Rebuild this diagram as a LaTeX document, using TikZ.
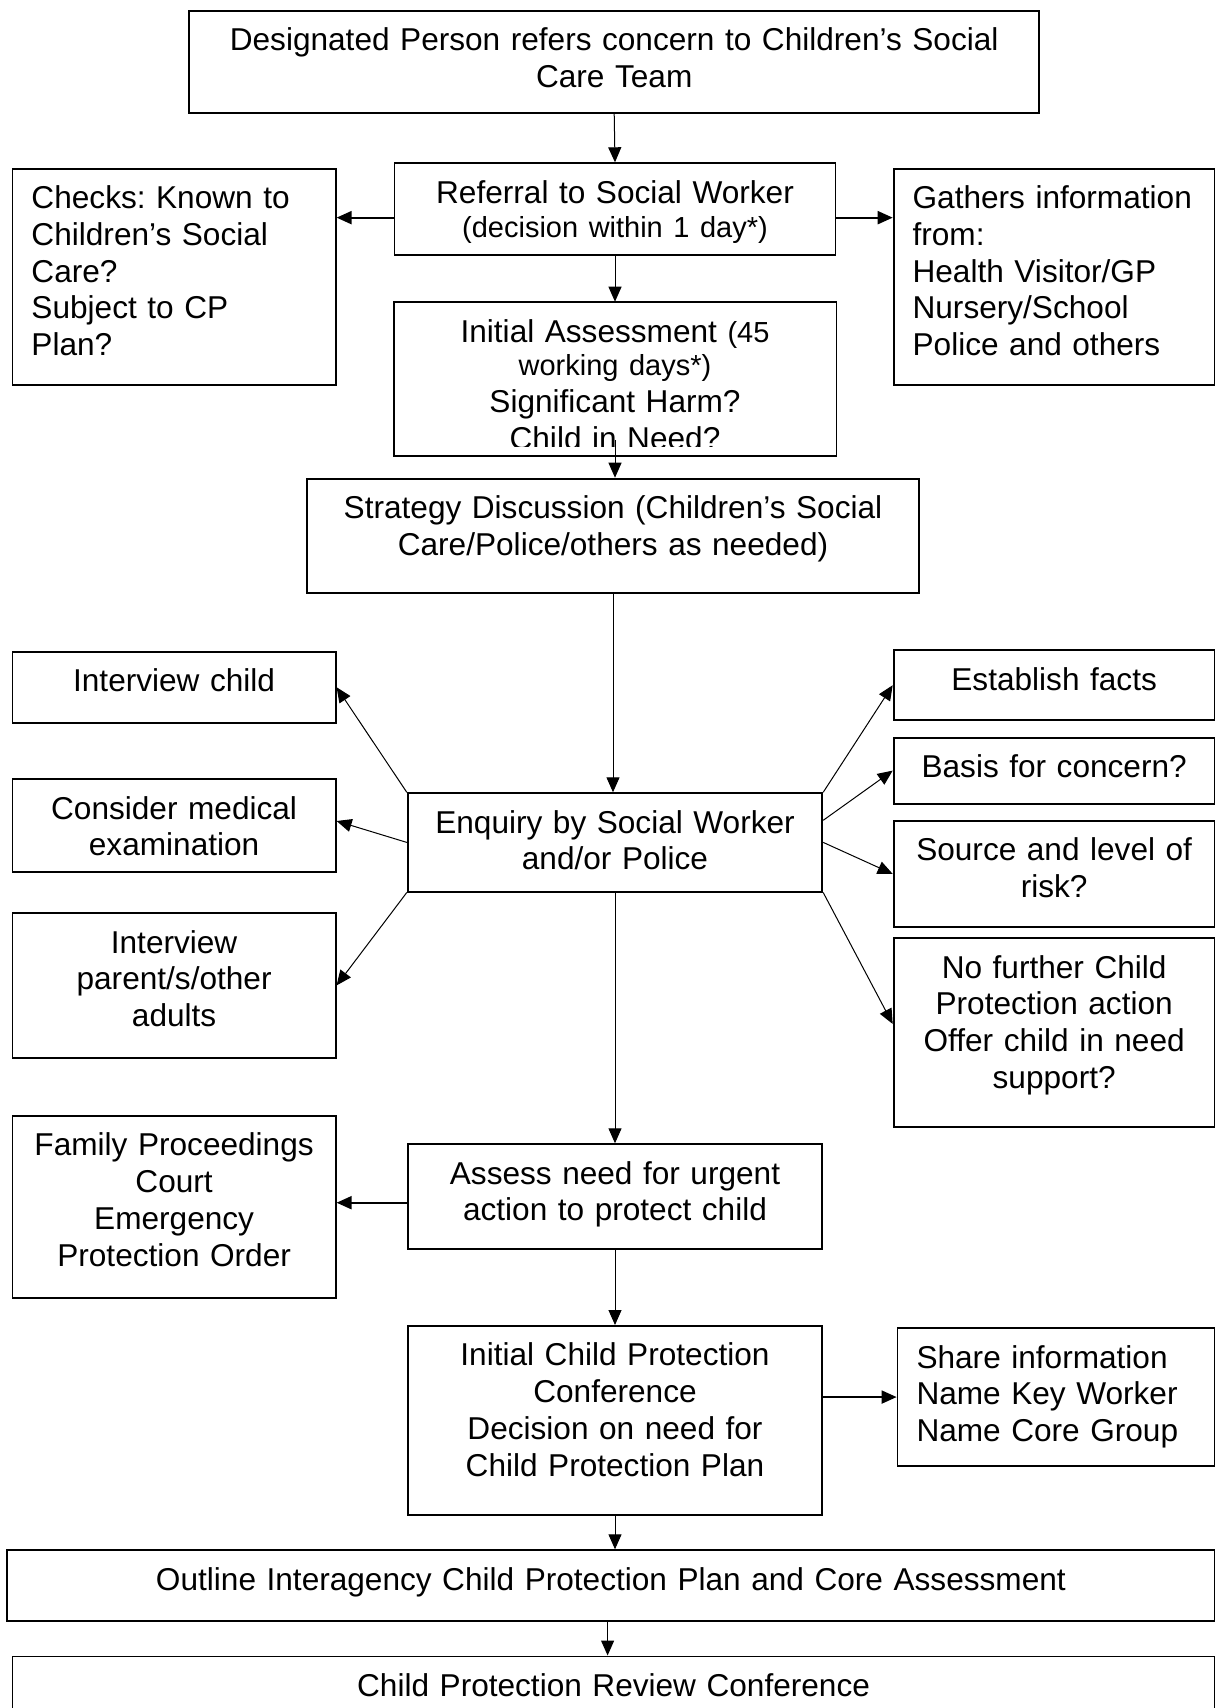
\documentclass[tikz,border=0pt]{standalone}
\usepackage{fontspec}
\setmainfont{Liberation Sans}
\usepackage{tikz}
\usetikzlibrary{arrows.meta}
\newcommand{\bigfs}{\fontsize{15.8pt}{18.35pt}\selectfont\frenchspacing}
\newcommand{\smallfs}{\fontsize{14.5pt}{17pt}\selectfont}

\begin{document}
\begin{tikzpicture}[x=0.5pt,y=-0.5pt,
  boxline/.style={line width=0.9pt},
  box/.style={draw,boxline,anchor=north west,inner xsep=4pt,inner ysep=0pt,align=center,font=\bigfs,text height=20pt},
  leftbox/.style={box,align=left,inner xsep=9.5pt},
  arr/.style={-{Triangle[length=7.5pt,width=6.5pt]},line width=0.5pt},
  thickarr/.style={arr,line width=1pt}]
  \useasboundingbox (0,0) rectangle (1215,1708);
  \node[box,text width=417pt,text depth=30.85pt] (designated) at (188.3,10) {Designated Person refers concern to Children's Social\\Care Team};
  \node[box,text width=212.5pt,text depth=25.85pt] (referral) at (393.6,162.3) {Referral to Social Worker\\[-1.1pt]{\smallfs (decision within 1 day*)}};
  \node[leftbox,text width=142.6pt,text depth=88.15pt] (checks) at (11.6,167.7) {Checks: Known to\\Children's Social\\Care?\\Subject to CP\\Plan?};
  \node[leftbox,text width=141.55pt,text depth=88.15pt] (gathers) at (892.7,167.7) {Gathers information\\from:\\Health Visitor/GP\\Nursery/School\\Police and others};
  \begin{scope}
    \clip (390,298) rectangle (838,446.5);
    \node[box,draw=none,text width=212.5pt,text depth=56.15pt] (assessment) at (393.6,301.7) {Initial Assessment {\smallfs(45}\\[-1.7pt]{\smallfs working days*)}\\Significant Harm?\\Child in Need?};
  \end{scope}
  \draw[boxline] (assessment.north west) rectangle (assessment.south east);
  \node[box,text width=298pt,text depth=37pt] (strategy) at (306.1,477.7) {Strategy Discussion (Children's Social\\Care/Police/others as needed)};
  \node[box,text width=199.3pt,text depth=29.2pt] (enquiry) at (406.8,792.3) {Enquiry by Social Worker\\and/or Police};
  \node[box,text width=153.6pt,text depth=15.35pt] (intchild) at (11.6,651) {Interview child};
  \node[box,text width=153.6pt,text depth=26.2pt] (medical) at (11.6,778.3) {Consider medical\\examination};
  \node[box,text width=153.6pt,text depth=52.2pt] (parents) at (11.6,912.3) {Interview\\parent/s/other\\adults};
  \node[box,text width=152.55pt,text depth=15pt] (facts) at (892.7,649.3) {Establish facts};
  \node[box,text width=152.55pt,text depth=13pt] (basis) at (892.7,736.7) {Basis for concern?};
  \node[box,text width=152.55pt,text depth=33pt] (risk) at (892.7,820) {Source and level of\\risk?};
  \node[box,text width=152.55pt,text depth=74.35pt] (nofurther) at (892.7,937.3) {No further Child\\Protection action\\Offer child in need\\support?};
  \node[box,text width=199.3pt,text depth=32.5pt] (urgent) at (406.8,1143.3) {Assess need for urgent\\action to protect child};
  \node[box,text width=153.6pt,text depth=70.85pt] (court) at (11.6,1115) {Family Proceedings\\Court\\Emergency\\Protection Order};
  \node[box,text width=199.3pt,text depth=74.5pt] (icpc) at (406.8,1325) {Initial Child Protection\\Conference\\Decision on need for\\Child Protection Plan};
  \node[leftbox,text width=139.6pt,text depth=48.85pt] (share) at (896.6,1327.3) {Share information\\Name Key Worker\\Name Core Group};
  \node[box,text width=595.8pt,text depth=15.35pt] (outline) at (6.2,1549.3) {Outline Interagency Child Protection Plan and Core Assessment};
  \node[box,text width=593.1pt,text depth=20pt] (review) at (11.6,1655.5) {Child Protection Review Conference};

  \draw[arr] (designated.south) -- (referral.north);
  \draw[thickarr] ([yshift=-4.3pt]referral.west) -- ([yshift=-4.3pt]referral.west -| checks.east);
  \draw[thickarr] ([yshift=-4.3pt]referral.east) -- ([yshift=-4.3pt]referral.east -| gathers.west);
  \draw[arr] (referral.south) -- (assessment.north);
  \draw[arr] ([yshift=8pt]assessment.south) -- (assessment.south |- strategy.north);
  \draw[arr] (strategy.south) -- (strategy.south |- enquiry.north);
  \draw[arr] (enquiry.north west) -- (intchild.east);
  \draw[arr] (enquiry.west) -- ([yshift=2.2pt]medical.east);
  \draw[arr] (enquiry.south west) -- (parents.east);
  \draw[arr] (enquiry.north east) -- (facts.west);
  \draw[arr] ([yshift=-14pt]enquiry.north east) -- (basis.west);
  \draw[arr] (enquiry.east) -- (risk.west);
  \draw[arr] (enquiry.south east) -- ([yshift=4.3pt]nofurther.west);
  \draw[arr] (enquiry.south) -- (urgent.north);
  \draw[thickarr] ([yshift=-3pt]urgent.west) -- ([yshift=-3pt]urgent.west -| court.east);
  \draw[arr] (urgent.south) -- (icpc.north);
  \draw[thickarr] (icpc.east |- share.west) -- (share.west);
  \draw[arr] (icpc.south) -- (icpc.south |- outline.north);
  \draw[arr] ([xshift=-1.65pt]outline.south) -- ([xshift=-1.65pt]outline.south |- review.north);
\end{tikzpicture}
\end{document}
